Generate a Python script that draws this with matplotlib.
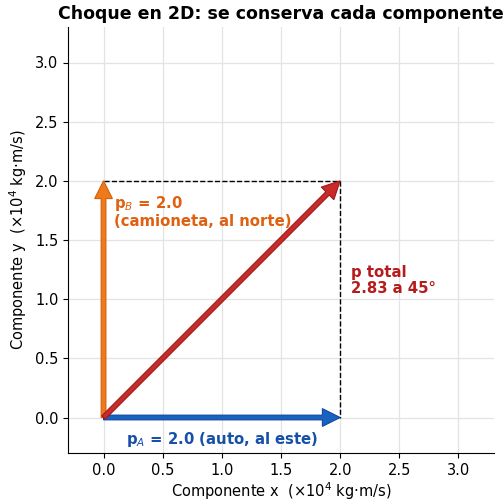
import matplotlib
matplotlib.use("Agg")
import matplotlib.pyplot as plt

# data
p_A = (2.0, 0.0)
p_B = (0.0, 2.0)
p_total = (p_A[0] + p_B[0], p_A[1] + p_B[1])
ticks = [0.0, 0.5, 1.0, 1.5, 2.0, 2.5, 3.0]
tick_labels = ["0.0", "0.5", "1.0", "1.5", "2.0", "2.5", "3.0"]

c_blue = "#1a62c0"
c_orange = "#ee7a1c"
c_red = "#c92a2a"

fig = plt.figure(figsize=(5.04, 5.0), dpi=100)
ax = fig.add_axes([0.135, 0.094, 0.845, 0.852])

ax.grid(True, color="#e3e3e3", linewidth=0.9)
ax.set_axisbelow(True)

def arrow(vec, color, edge):
    ax.arrow(0, 0, vec[0], vec[1], width=0.04, head_width=0.15, head_length=0.15,
             length_includes_head=True, fc=color, ec=edge, lw=0.8, zorder=3)

ax.plot([p_B[0], p_total[0]], [p_B[1], p_total[1]], ls="--", color="black", lw=1.0, zorder=2)
ax.plot([p_total[0], p_A[0]], [p_total[1], p_A[1]], ls="--", color="black", lw=1.0, zorder=2)

arrow(p_A, c_blue, "#0d47a1")
arrow(p_B, c_orange, "#d45f0a")
arrow(p_total, c_red, "#a01818")

ax.text(0.09, 1.89, "p$_B$ = 2.0\n(camioneta, al norte)", color="#e06010",
        fontsize=10.7, fontweight="bold", va="top", ha="left", linespacing=1.1)
ax.text(1.0, -0.19, "p$_A$ = 2.0 (auto, al este)", color="#1650a8",
        fontsize=10.7, fontweight="bold", va="center", ha="center")
ax.text(2.09, 1.16, "p total\n2.83 a 45°", color="#b71c1c",
        fontsize=10.7, fontweight="bold", va="center", ha="left", linespacing=1.1)

ax.set_xlim(-0.3, 3.3)
ax.set_ylim(-0.3, 3.3)
ax.set_xticks(ticks)
ax.set_xticklabels(tick_labels)
ax.set_yticks(ticks)
ax.set_yticklabels(tick_labels)
ax.tick_params(labelsize=10.5)
for s in ["top", "right"]:
    ax.spines[s].set_visible(False)

ax.set_xlabel("Componente x  (×10$^4$ kg·m/s)", fontsize=10.5, labelpad=2)
ax.set_ylabel("Componente y  (×10$^4$ kg·m/s)", fontsize=10.5)
ax.set_title("Choque en 2D: se conserva cada componente", fontsize=12.5, fontweight="bold")

fig.savefig("out.png", dpi=100)
